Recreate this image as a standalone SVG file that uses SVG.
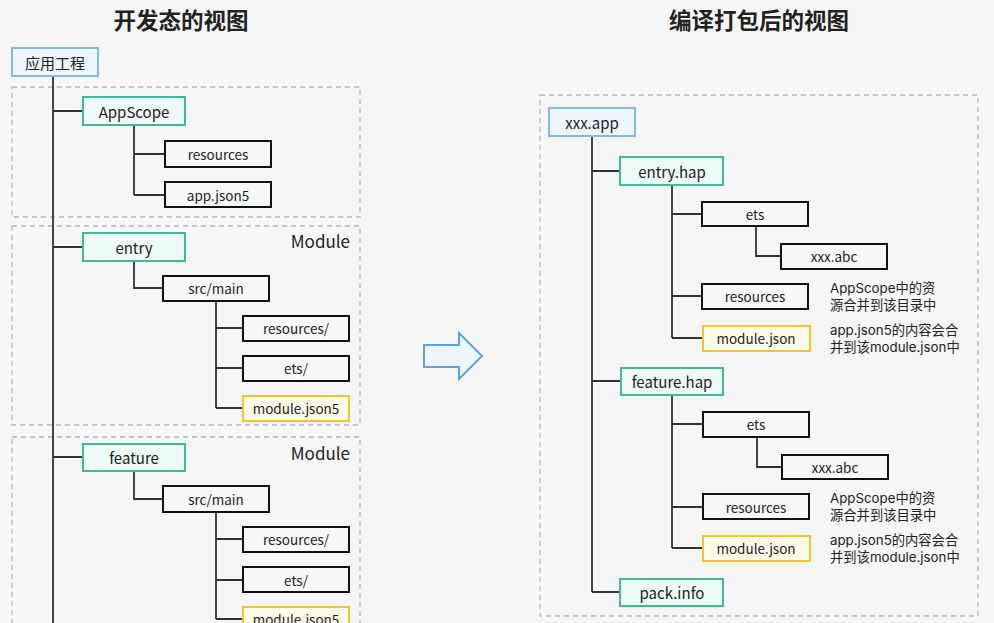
<svg xmlns="http://www.w3.org/2000/svg" width="994" height="623" viewBox="0 0 994 623">
<style>
text{font-family:"Noto Sans CJK SC","Noto Sans",sans-serif;fill:#222;}
.t{font-size:22.5px;font-weight:bold;text-anchor:middle;}
.l{font-size:15px;text-anchor:middle;dominant-baseline:central;}
.s{font-size:13.5px;text-anchor:middle;dominant-baseline:central;}
.n{font-size:13.3px;font-family:Inter,"Noto Sans CJK SC",sans-serif;}
.m{font-size:17px;text-anchor:end;}
.dash{fill:none;stroke:#b8b8b8;stroke-width:1.3;stroke-dasharray:5 4;}
.blue{fill:#eef6fd;stroke:#84b9e6;stroke-width:2;}
.green{fill:#eefaf5;stroke:#3fb99a;stroke-width:2;}
.black{fill:#f8f8f8;stroke:#111;stroke-width:2;}
.yel{fill:#fffbea;stroke:#f3c62a;stroke-width:2;}
.c{fill:none;stroke:#333;stroke-width:1.8;}
</style>
<rect width="994" height="623" fill="#f6f6f6"/>
<text class="t" x="181" y="29">开发态的视图</text>
<text class="t" x="759" y="29">编译打包后的视图</text>
<g id="groups">
<rect class="dash" x="12" y="87" width="348" height="130"/>
<rect class="dash" x="12" y="226" width="348" height="199"/>
<text class="m" x="350" y="248">Module</text>
<rect class="dash" x="12" y="437" width="348" height="200"/>
<text class="m" x="350" y="460">Module</text>
<rect class="dash" x="540" y="95" width="438" height="521"/>
</g>
<g id="connectors">
<path class="c" d="M53 76V623M53 111H83M53 247H83M53 457H83"/>
<path class="c" d="M134 125V195M134 154H165M134 195H165"/>
<path class="c" d="M134 261V288H163M216 301V408M216 328H243M216 368H243M216 408H243"/>
<path class="c" d="M134 471V499H163M216 512V619M216 539H243M216 580H243M216 619H243"/>
<path class="c" d="M592 136V592M592 171H620M592 381H621M592 592H620"/>
<path class="c" d="M672 185V338M672 214H702M672 296H702M672 338H703M756 226V256H781"/>
<path class="c" d="M672 395V548M672 424H703M672 507H703M672 548H703M757 437V467H782"/>
</g>
<g id="arrow"><path d="M424 345H459V333L482 356L459 379V367H424Z" fill="#eef6fd" stroke="#5fa3dc" stroke-width="2" stroke-linejoin="miter"/></g>
<g id="app-project"><rect class="blue" x="12" y="48" width="86" height="28"/><text class="l" x="55" y="62">应用工程</text></g>
<g id="appscope"><rect class="green" x="83" y="97" width="102" height="28"/><text class="l" x="134" y="111">AppScope</text></g>
<g id="as-resources"><rect class="black" x="165" y="141" width="106" height="26"/><text class="s" x="218" y="154">resources</text></g>
<g id="as-appjson5"><rect class="black" x="165" y="182" width="106" height="25"/><text class="s" x="218" y="195">app.json5</text></g>
<g id="entry"><rect class="green" x="83" y="233" width="102" height="28"/><text class="l" x="134" y="247">entry</text></g>
<g id="entry-srcmain"><rect class="black" x="163" y="276" width="106" height="25"/><text class="s" x="216" y="288">src/main</text></g>
<g id="entry-resources"><rect class="black" x="243" y="316" width="106" height="25"/><text class="s" x="296" y="328">resources/</text></g>
<g id="entry-ets"><rect class="black" x="243" y="356" width="106" height="25"/><text class="s" x="296" y="368">ets/</text></g>
<g id="entry-modulejson5"><rect class="yel" x="243" y="396" width="106" height="25"/><text class="s" x="296" y="408">module.json5</text></g>
<g id="feature"><rect class="green" x="83" y="444" width="102" height="27"/><text class="l" x="134" y="457">feature</text></g>
<g id="feature-srcmain"><rect class="black" x="163" y="486" width="106" height="26"/><text class="s" x="216" y="499">src/main</text></g>
<g id="feature-resources"><rect class="black" x="243" y="527" width="106" height="25"/><text class="s" x="296" y="539">resources/</text></g>
<g id="feature-ets"><rect class="black" x="243" y="567" width="106" height="25"/><text class="s" x="296" y="580">ets/</text></g>
<g id="feature-modulejson5"><rect class="yel" x="243" y="607" width="106" height="25"/><text class="s" x="296" y="619">module.json5</text></g>
<g id="xxx-app"><rect class="blue" x="549" y="108" width="86" height="28"/><text class="l" x="592" y="122">xxx.app</text></g>
<g id="entry-hap"><rect class="green" x="620" y="157" width="103" height="28"/><text class="l" x="672" y="171">entry.hap</text></g>
<g id="eh-ets"><rect class="black" x="702" y="202" width="106" height="24"/><text class="s" x="755" y="214">ets</text></g>
<g id="eh-abc"><rect class="black" x="781" y="244" width="106" height="25"/><text class="s" x="834" y="256">xxx.abc</text></g>
<g id="eh-resources"><rect class="black" x="702" y="284" width="106" height="25"/><text class="s" x="755" y="296">resources</text></g>
<g id="eh-modulejson"><rect class="yel" x="703" y="326" width="107" height="25"/><text class="s" x="756" y="338">module.json</text></g>
<g id="eh-notes"><text class="n" x="830" y="293"><tspan x="830">AppScope中的资</tspan><tspan x="830" dy="16.5">源合并到该目录中</tspan></text><text class="n" x="830" y="335"><tspan x="830">app.json5的内容会合</tspan><tspan x="830" dy="16.5">并到该module.json中</tspan></text></g>
<g id="feature-hap"><rect class="green" x="621" y="368" width="102" height="27"/><text class="l" x="672" y="381">feature.hap</text></g>
<g id="fh-ets"><rect class="black" x="703" y="412" width="106" height="25"/><text class="s" x="756" y="424">ets</text></g>
<g id="fh-abc"><rect class="black" x="782" y="455" width="106" height="24"/><text class="s" x="835" y="467">xxx.abc</text></g>
<g id="fh-resources"><rect class="black" x="703" y="494" width="106" height="25"/><text class="s" x="756" y="507">resources</text></g>
<g id="fh-modulejson"><rect class="yel" x="703" y="536" width="107" height="25"/><text class="s" x="756" y="548">module.json</text></g>
<g id="fh-notes"><text class="n" x="830" y="503"><tspan x="830">AppScope中的资</tspan><tspan x="830" dy="16.5">源合并到该目录中</tspan></text><text class="n" x="830" y="545"><tspan x="830">app.json5的内容会合</tspan><tspan x="830" dy="16.5">并到该module.json中</tspan></text></g>
<g id="pack-info"><rect class="green" x="620" y="579" width="103" height="27"/><text class="l" x="672" y="592">pack.info</text></g>
</svg>
